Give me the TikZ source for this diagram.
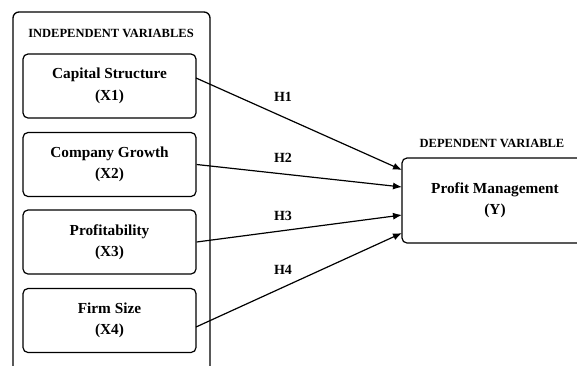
\documentclass[tikz,border=0pt]{standalone}
\usepackage{fontspec}
\setmainfont{Liberation Serif}
\usetikzlibrary{arrows.meta}
\begin{document}
\begin{tikzpicture}[x=1pt,y=-1pt,
  container/.style={draw, line width=1.3pt, rounded corners=6pt},
  varbox/.style={draw, line width=1.2pt, rounded corners=5pt, minimum width=173pt, minimum height=64pt, align=center, font=\bfseries\fontsize{15.3}{21.5}\selectfont, inner sep=0pt},
  title/.style={font=\bfseries\fontsize{12.5}{14}\selectfont, inner sep=0pt},
  hlabel/.style={font=\bfseries\fontsize{14}{16}\selectfont, inner sep=0pt},
  link/.style={line width=1.2pt, -{Latex[length=9pt,width=7pt]}}]
\useasboundingbox (0,0) rectangle (577,365);
\fill[white] (0,0) rectangle (577,365);
\draw[container] (13,380) -- (13,12) -- (210,12) -- (210,380);
\node[title] (indt) at (111,33) {INDEPENDENT VARIABLES};
\node[varbox] (x1) at (109.5,86) {Capital Structure\\(X1)};
\node[varbox] (x2) at (109.5,164.5) {Company Growth\\(X2)};
\node[varbox] (x3) at (109.5,242) {Profitability\\(X3)};
\node[varbox] (x4) at (109.5,320.5) {Firm Size\\(X4)};
\draw[container, line width=1.2pt, rounded corners=5pt] (600,158) -- (402,158) -- (402,243) -- (600,243);
\node[title] (dept) at (492,143) {DEPENDENT VARIABLE};
\node[font=\bfseries\fontsize{15.3}{21.5}\selectfont, align=center, inner sep=0pt] (y) at (495,200) {Profit Management\\(Y)};
\coordinate (e1) at (402,170);
\coordinate (e2) at (402,187);
\coordinate (e3) at (402,215);
\coordinate (e4) at (402,233);
\coordinate (s1) at (196,78);
\coordinate (s4) at (196,327);
\draw[link] (s1) -- (e1);
\draw[link] (x2.east) -- (e2);
\draw[link] (x3.east) -- (e3);
\draw[link] (s4) -- (e4);
\node[hlabel] (h1) at (283,97) {H1};
\node[hlabel] (h2) at (283,158) {H2};
\node[hlabel] (h3) at (283,216) {H3};
\node[hlabel] (h4) at (283,270) {H4};
\end{tikzpicture}
\end{document}
